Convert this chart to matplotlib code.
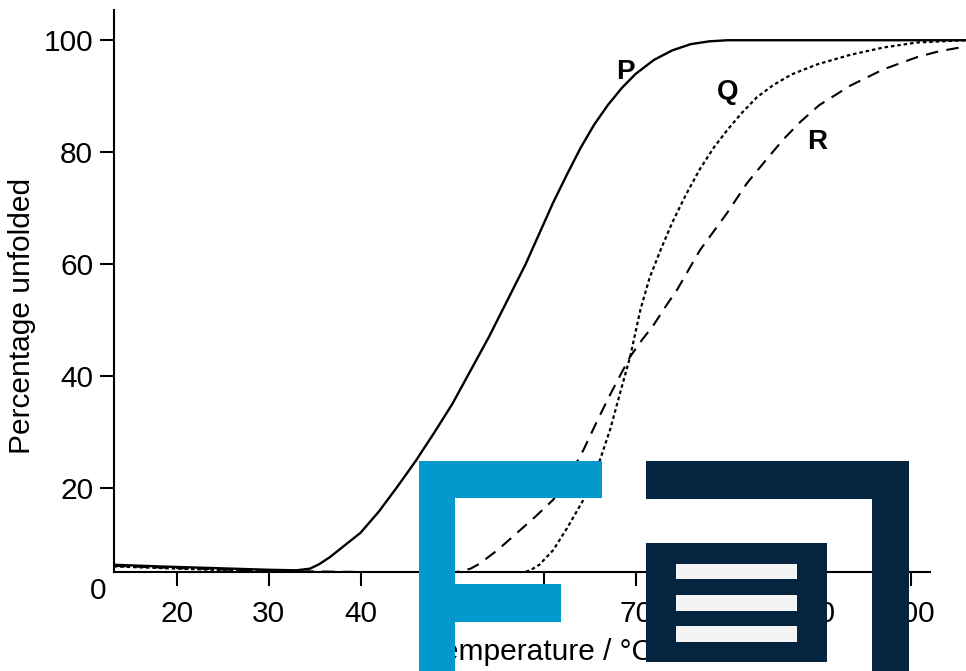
import numpy as np
import matplotlib
matplotlib.use("Agg")
import matplotlib.pyplot as plt
from matplotlib.patches import Rectangle

plt.rcParams['font.family'] = ['Liberation Sans', 'DejaVu Sans']

# 読み取り値 (温度 / 変性率)
p_temp = [13.1, 18, 24, 30, 33, 34.5, 35.5, 36.7, 38, 40, 42, 44, 46, 48, 50, 52, 54, 56, 58,
          59.5, 61, 62.5, 64, 65.5, 67, 68.5, 70, 72, 74, 76, 78, 80, 106]
p_val = [6.3, 6.0, 5.7, 5.4, 5.3, 5.6, 6.4, 7.7, 9.4, 12.0, 15.8, 20.2, 24.8, 29.8, 35.0, 41.0,
         47.0, 53.5, 60.0, 65.5, 71.0, 76.0, 80.8, 85.0, 88.5, 91.5, 94.0, 96.5, 98.2, 99.3, 99.8, 100, 100]

q_temp = [13.1, 20, 30, 40, 50, 55, 57.5, 58.5, 59.5, 61, 62.5, 64.3, 65.3, 66.1, 67.2, 68.3,
          69.4, 70.5, 71.5, 72.7, 74, 75.5, 77, 78.5, 80, 81.5, 83.2, 85, 87, 89.8, 93.4, 97.0,
          100.7, 106]
q_val = [6.0, 5.6, 5.1, 4.9, 4.8, 4.7, 4.8, 5.3, 6.3, 8.9, 12.8, 17.9, 21.5, 25.0, 30.4, 37.0,
         43.5, 51.8, 57.5, 62.5, 67.5, 72.5, 77.0, 80.8, 84.0, 86.9, 89.8, 92.0, 93.9, 95.7, 97.4,
         98.7, 99.6, 100]

r_temp = [13.1, 20, 30, 40, 47, 50.5, 52, 53, 55, 57, 59, 61, 62.7, 64.3, 65.6, 66.9, 68.2, 69.4,
          70.7, 71.9, 73.2, 74.5, 77, 79.9, 82.1, 84.3, 86.1, 88, 90, 93.4, 97, 100.7, 103, 106]
r_val = [6.1, 5.7, 5.2, 5.0, 4.9, 5.0, 5.6, 6.5, 9.0, 11.9, 14.8, 17.9, 22.0, 26.8, 31.3, 35.7,
         39.8, 43.5, 46.5, 49.0, 52.3, 55.4, 62.5, 69.0, 74.4, 78.8, 82.3, 85.5, 88.4, 91.9, 94.8,
         97.0, 98.0, 98.9]

x_ticks = [20, 30, 40, 50, 60, 70, 80, 90, 100]
y_ticks = [20, 40, 60, 80, 100]
curve_names = ["P", "Q", "R"]
name_pos = [(68.9, 94.3), (80.0, 90.7), (89.8, 81.8)]

W, H = 966, 671
fig = plt.figure(figsize=(W / 100, H / 100), dpi=100)
ax = fig.add_axes([114 / W, (H - 572) / H, (W - 114) / W, (572 - 10) / H])

ax.plot(p_temp, p_val, color="black", lw=1.7, solid_joinstyle="round")
ax.plot(q_temp, q_val, color="black", lw=1.6, linestyle=(0, (1.6, 1.3)))
ax.plot(r_temp, r_val, color="black", lw=1.5, linestyle=(0, (6, 4)))

for name, (x, y) in zip(curve_names, name_pos):
    ax.text(x, y, name, fontsize=20, fontweight="bold", ha="center", va="center")

ax.set_xlim(13.13, 106.0)
ax.set_ylim(5, 105.4)
ax.set_xticks(x_ticks)
ax.set_yticks(y_ticks)
ax.spines["top"].set_visible(False)
ax.spines["right"].set_visible(False)
ax.spines["bottom"].set_bounds(13.13, 102.1)
for s in ("left", "bottom"):
    ax.spines[s].set_linewidth(1.5)
ax.tick_params(axis="both", direction="out", length=10, width=1.5, labelsize=21.5)
ax.tick_params(axis="x", pad=10)
ax.tick_params(axis="y", pad=5)

# 0 ラベル (軸より下にずれて描かれている)
fig.text(98 / W, 1 - 591 / H, "0", fontsize=21.5, ha="center", va="center")
fig.text(22 / W, 1 - 316 / H, "Percentage unfolded", fontsize=21.5, rotation=90,
         ha="center", va="center")
fig.text(540 / W, 1 - 652 / H, "Temperature / °C", fontsize=21.5, ha="center", va="center")

# ロゴの透かし
def px_rect(x0, y0, x1, y1, color):
    r = Rectangle((x0 / W, 1 - y1 / H), (x1 - x0) / W, (y1 - y0) / H,
                  transform=fig.transFigure, facecolor=color, edgecolor="none", zorder=10)
    fig.add_artist(r)

blue = "#0399cc"
navy = "#04243f"
px_rect(419, 461, 455, 671, blue)
px_rect(419, 461, 602, 498, blue)
px_rect(419, 584, 561, 622, blue)
px_rect(646, 461, 909, 499, navy)
px_rect(872, 461, 909, 671, navy)
px_rect(646, 543, 827, 662, navy)
for y0, y1 in [(564, 579), (595, 611), (626, 642)]:
    px_rect(676, y0, 797, y1, "#f4f4f4")

fig.savefig("out.png", dpi=100, facecolor="white")
